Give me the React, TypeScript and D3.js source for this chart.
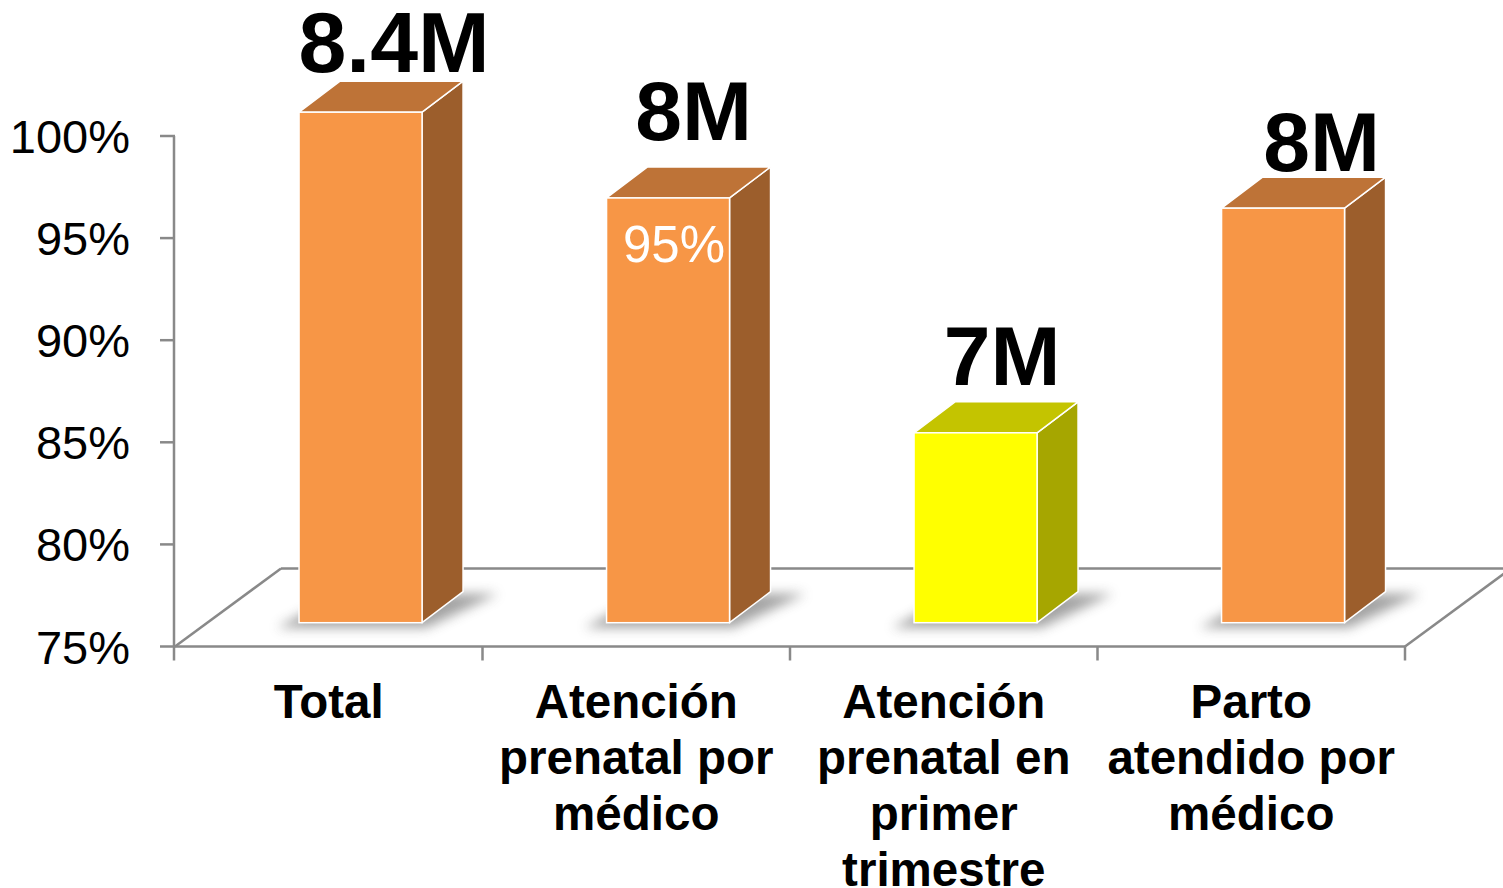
import React from 'react';
import * as d3 from 'd3';

// data
const categories = [
  ['Total'],
  ['Atención', 'prenatal por', 'médico'],
  ['Atención', 'prenatal en', 'primer', 'trimestre'],
  ['Parto', 'atendido por', 'médico'],
];
const percentages = [100, 95.8, 84.3, 95.3];
const countLabels = ['8.4M', '8M', '7M', '8M'];
const insideLabels = ['', '95%', '', ''];
const highlighted = [false, false, true, false];
const yTicks = [75, 80, 85, 90, 95, 100];

// layout tweaks for the hand-placed labels (px)
const labelLift = [9, 27, 17, 6];
const labelShift = [13, 5, 6, 18];

const W = 1503;
const H = 888;
const left = 175;
const right = 1405;
const floorY = 646.5;
const topY = 136;
const DX = 106; // floor depth
const DY = -78;
const FONT = '"Liberation Sans", Arial, Helvetica, sans-serif';

const ORANGE = { front: '#F79646', top: '#BE7337', side: '#9C5E2C' };
const YELLOW = { front: '#FFFF00', top: '#C4C400', side: '#A6A600' };

export default function App() {
  const idx = categories.map((_, i) => String(i));
  const x = d3.scaleBand().domain(idx).range([left, right]).paddingInner(0.6).paddingOuter(0.3);
  const y = d3.scaleLinear().domain([75, 100]).range([floorY, topY]);

  const fdx = DX * 0.3; // front face depth offset
  const fdy = -23.8;
  const bdx = 41; // bar depth
  const bdy = -31;

  const step = x.step();
  const bounds = d3.range(categories.length + 1).map((i) => left + i * step);

  return (
    <svg width={W} height={H} style={{ position: 'absolute', left: 0, top: 0 }} fontFamily={FONT}>
      <defs>
        <filter id="shadow" x="-50%" y="-50%" width="200%" height="200%">
          <feGaussianBlur stdDeviation="6" />
        </filter>
      </defs>
      <rect width={W} height={H} fill="#fff" />

      {/* floor */}
      <g stroke="#898989" strokeWidth={2.5} fill="none">
        <line x1={left} y1={floorY} x2={left + DX} y2={floorY + DY} />
        <line x1={left + DX} y1={floorY + DY} x2={right + DX} y2={floorY + DY} />
        <line x1={right} y1={floorY} x2={right + DX} y2={floorY + DY} />
        <line x1={left} y1={floorY} x2={right} y2={floorY} />
        <line x1={left - 1} y1={topY} x2={left - 1} y2={floorY + 14} />
        {yTicks.map((t) => (
          <line key={t} x1={left - 15} y1={y(t)} x2={left} y2={y(t)} />
        ))}
        {bounds.slice(1).map((b, i) => (
          <line key={i} x1={b} y1={floorY} x2={b} y2={floorY + 14} />
        ))}
      </g>

      {/* y tick labels */}
      {yTicks.map((t) => (
        <text key={t} x={130} y={y(t) + 17} textAnchor="end" fontSize={47} fill="#000">
          {t}%
        </text>
      ))}

      {/* bars */}
      {percentages.map((v, i) => {
        const c = highlighted[i] ? YELLOW : ORANGE;
        const x0 = (x(String(i)) as number) + fdx;
        const x1 = x0 + x.bandwidth();
        const yb = floorY + fdy;
        const yt = y(v) + fdy;
        const shadow = [
          [x0 - 22, yb + 5],
          [x1 + 4, yb + 5],
          [x1 + bdx + 35, yb + bdy + 2],
          [x0 + bdx, yb + bdy + 2],
        ];
        return (
          <g key={i}>
            <polygon points={shadow.map((p) => p.join(',')).join(' ')} fill="#666" opacity={0.6} filter="url(#shadow)" />
            <polygon
              points={`${x1},${yt} ${x1 + bdx},${yt + bdy} ${x1 + bdx},${yb + bdy} ${x1},${yb}`}
              fill={c.side}
              stroke="#fff"
              strokeWidth={1.5}
              strokeLinejoin="round"
            />
            <polygon
              points={`${x0},${yt} ${x0 + bdx},${yt + bdy} ${x1 + bdx},${yt + bdy} ${x1},${yt}`}
              fill={c.top}
              stroke="#fff"
              strokeWidth={1.5}
              strokeLinejoin="round"
            />
            <rect x={x0} y={yt} width={x1 - x0} height={yb - yt} fill={c.front} stroke="#fff" strokeWidth={1.5} />
            {insideLabels[i] && (
              <text x={(x0 + x1) / 2 + 6} y={yt + 64} textAnchor="middle" fontSize={51} fill="#fff">
                {insideLabels[i]}
              </text>
            )}
            <text
              x={(x0 + x1 + bdx) / 2 + labelShift[i]}
              y={yt + bdy - labelLift[i]}
              textAnchor="middle"
              fontSize={i === 0 ? 86 : 84}
              fontWeight="bold"
              fill="#000"
            >
              {countLabels[i]}
            </text>
          </g>
        );
      })}

      {/* category labels */}
      {categories.map((lines, i) => {
        const cx = (x(String(i)) as number) + x.bandwidth() / 2;
        return (
          <text key={i} textAnchor="middle" fontSize={47.5} fontWeight="bold" fill="#000">
            {lines.map((l, j) => (
              <tspan key={j} x={cx} y={718 + j * 56}>
                {l}
              </tspan>
            ))}
          </text>
        );
      })}
    </svg>
  );
}
